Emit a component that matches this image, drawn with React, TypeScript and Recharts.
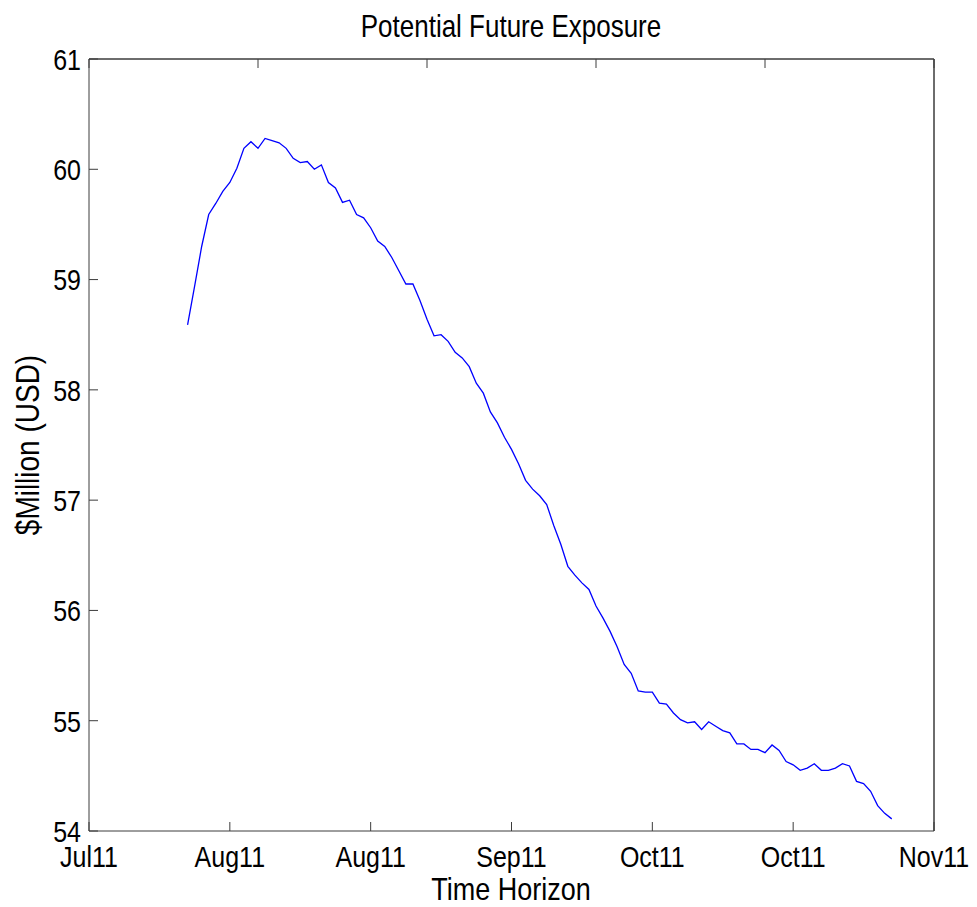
import { Line, LineChart, ReferenceLine, XAxis, YAxis } from "recharts";

// day offset of the first simulated date, relative to the first tick (Jul11)
const firstDay = 14;

// potential future exposure, $ million
const exposure = [
  58.59, 58.94, 59.3, 59.59, 59.69, 59.8, 59.88, 60.01, 60.19, 60.25,
  60.19, 60.28, 60.26, 60.24, 60.19, 60.1, 60.06, 60.07, 60.0, 60.04,
  59.88, 59.83, 59.7, 59.72, 59.59, 59.56, 59.47, 59.35, 59.3, 59.2,
  59.08, 58.96, 58.96, 58.81, 58.64, 58.49, 58.5, 58.44, 58.34, 58.29,
  58.21, 58.06, 57.97, 57.8, 57.7, 57.57, 57.46, 57.33, 57.18, 57.1,
  57.04, 56.96, 56.77, 56.6, 56.4, 56.32, 56.25, 56.19, 56.04, 55.93,
  55.81, 55.67, 55.51, 55.43, 55.27, 55.26, 55.26, 55.16, 55.15, 55.07,
  55.01, 54.98, 54.99, 54.92, 54.99, 54.95, 54.91, 54.89, 54.79, 54.79,
  54.74, 54.74, 54.71, 54.78, 54.73, 54.63, 54.6, 54.55, 54.57, 54.61,
  54.55, 54.55, 54.57, 54.61, 54.59, 54.45, 54.43, 54.36, 54.23, 54.16,
  54.11,
];

const xTicks = [0, 20, 40, 60, 80, 100, 120];
const xTickLabels = ["Jul11", "Aug11", "Aug11", "Sep11", "Oct11", "Oct11", "Nov11"];
const yTicks = [54, 55, 56, 57, 58, 59, 60, 61];

const data = exposure.map((v, i) => ({ day: firstDay + i, pfe: v }));

const FONT = '"Liberation Sans", Arial, sans-serif';
const AXIS = "#3c3c3c";
const TICK_LEN = 9;
const STRETCH = 1.2; // the original text is drawn a bit taller than wide

function BottomTick(props: any) {
  const { x, y, payload } = props;
  const idx = xTicks.indexOf(payload.value);
  return (
    <g>
      <line x1={x} x2={x} y1={y - 10} y2={y - 10 - TICK_LEN} stroke={AXIS} />
      <text
        transform={`translate(${x},${y + 26}) scale(1,${STRETCH})`}
        textAnchor="middle"
        fontSize={25}
        fontFamily={FONT}
        fill="#000"
      >
        {xTickLabels[idx]}
      </text>
    </g>
  );
}

function TopTick(props: any) {
  const { x, y } = props;
  return <line x1={x} x2={x} y1={y} y2={y + TICK_LEN} stroke={AXIS} />;
}

function LeftTick(props: any) {
  const { x, y, payload } = props;
  return (
    <g>
      <line x1={x + 8} x2={x + 8 + TICK_LEN} y1={y} y2={y} stroke={AXIS} />
      <text
        transform={`translate(${x},${y}) scale(1,${STRETCH})`}
        dy="0.36em"
        textAnchor="end"
        fontSize={25}
        fontFamily={FONT}
        fill="#000"
      >
        {payload.value}
      </text>
    </g>
  );
}

function RightTick(props: any) {
  const { x, y } = props;
  return <line x1={x} x2={x - TICK_LEN} y1={y} y2={y} stroke={AXIS} />;
}

export default function App() {
  return (
    <div style={{ position: "absolute", left: 0, top: 0, width: 977, height: 907, background: "#fff" }}>
      <LineChart width={977} height={907} data={data} margin={{ top: 58, right: 42, bottom: 6, left: 0 }}>
        <XAxis
          dataKey="day"
          type="number"
          domain={[0, 120]}
          ticks={xTicks}
          tickSize={0}
          tickMargin={10}
          tick={<BottomTick />}
          stroke={AXIS}
          height={70}
          interval={0}
        />
        <XAxis
          xAxisId="top"
          orientation="top"
          type="number"
          domain={[0, 120]}
          ticks={xTicks}
          tickSize={0}
          tickMargin={0}
          tick={<TopTick />}
          stroke={AXIS}
          height={1}
          interval={0}
        />
        <YAxis
          type="number"
          domain={[54, 61]}
          ticks={yTicks}
          tickSize={0}
          tickMargin={8}
          tick={<LeftTick />}
          stroke={AXIS}
          width={89}
          interval={0}
        />
        <YAxis
          yAxisId="right"
          orientation="right"
          type="number"
          domain={[54, 61]}
          ticks={yTicks}
          tickSize={0}
          tickMargin={0}
          tick={<RightTick />}
          stroke={AXIS}
          width={1}
          interval={0}
        />
        <ReferenceLine y={61} stroke={AXIS} />
        <ReferenceLine x={120} stroke={AXIS} />
        <Line
          dataKey="pfe"
          stroke="#0000ff"
          strokeWidth={1.3}
          dot={false}
          isAnimationActive={false}
        />
      </LineChart>
      <svg
        width={977}
        height={907}
        style={{ position: "absolute", left: 0, top: 0, pointerEvents: "none" }}
      >
        <text
          transform={`translate(511,37) scale(1,1.18)`}
          textAnchor="middle"
          fontSize={26}
          fontFamily={FONT}
          fill="#000"
        >
          Potential Future Exposure
        </text>
        <text
          transform={`translate(511,900) scale(1,1.18)`}
          textAnchor="middle"
          fontSize={27}
          fontFamily={FONT}
          fill="#000"
        >
          Time Horizon
        </text>
        <text
          transform={`translate(39,445) rotate(-90) scale(1,1.18)`}
          textAnchor="middle"
          fontSize={28}
          fontFamily={FONT}
          fill="#000"
        >
          $Million (USD)
        </text>
      </svg>
    </div>
  );
}
